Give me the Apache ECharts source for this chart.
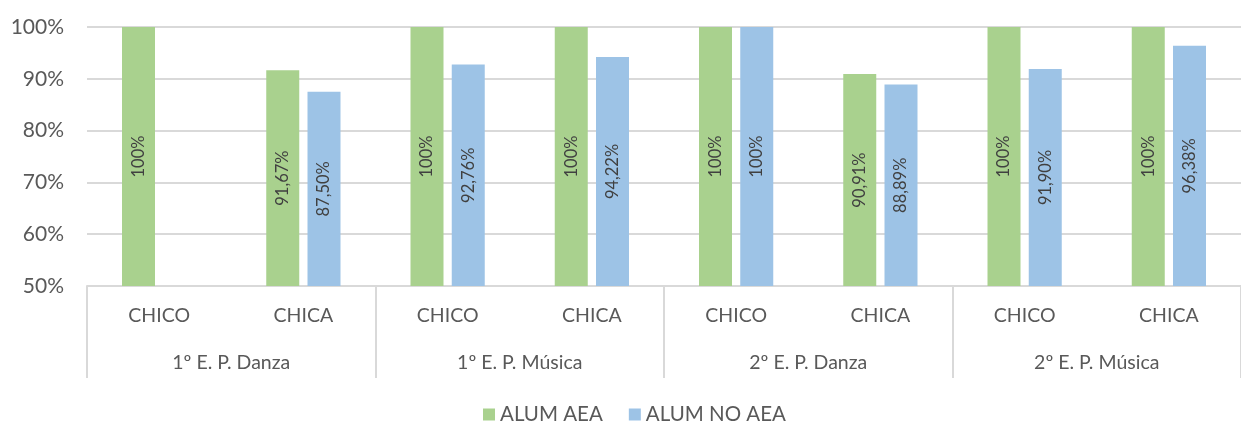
<!DOCTYPE html>
<html>
<head>
<meta charset="utf-8">
<script src="https://cdn.jsdelivr.net/npm/echarts@6/dist/echarts.min.js"></script>
<style>
html,body{margin:0;padding:0;background:#fff;}
#chart{width:1241px;height:424px;}
</style>
</head>
<body>
<div id="chart"></div>
<script>
const categories = ['CHICO','CHICA','CHICO','CHICA','CHICO','CHICA','CHICO','CHICA'];
const groups = ['1º E. P. Danza','1º E. P. Música','2º E. P. Danza','2º E. P. Música'];
const seriesNames = ['ALUM AEA','ALUM NO AEA'];
const alumAEA = [100, 91.67, 100, 100, 100, 90.91, 100, 100];
const alumNoAEA = [null, 87.50, 92.76, 94.22, 100, 88.89, 91.90, 96.38];
const yTicks = [50, 60, 70, 80, 90, 100];

const FONT = 'Lato';
const fmt = v => (v === 100 ? '100' : v.toFixed(2).replace('.', ',')) + '%';

const chart = echarts.init(document.getElementById('chart'), null, {renderer:'canvas'});
const labelCfg = {
  show: true, position: 'inside', rotate: 90,
  color: '#404040', fontFamily: FONT, fontSize: 16.5,
  formatter: p => fmt(p.value)
};
chart.setOption({
  animation: false,
  textStyle: {fontFamily: FONT},
  grid: {left: 87, top: 27, width: 1161, height: 259, containLabel: false},
  legend: {
    data: seriesNames, top: 399, left: 478,
    itemWidth: 12, itemHeight: 12, itemGap: 26,
    icon: 'rect',
    textStyle: {color: '#595959', fontSize: 20.5, fontFamily: FONT}
  },
  xAxis: [{
    type: 'category', data: categories, position: 'bottom',
    axisLine: {lineStyle: {color: '#d9d9d9', width: 2}},
    axisTick: {show: false},
    axisLabel: {color: '#595959', fontSize: 19.5, fontFamily: FONT, margin: 20, interval: 0}
  }, {
    type: 'category', data: groups, position: 'bottom',
    axisLine: {show: false},
    axisTick: {show: true, length: 92, interval: 0, lineStyle: {color: '#d9d9d9', width: 2}},
    axisLabel: {color: '#595959', fontSize: 19.5, fontFamily: FONT, margin: 67, interval: 0}
  }],
  yAxis: {
    type: 'value', min: yTicks[0], max: yTicks[yTicks.length-1], interval: 10,
    axisLine: {show: false}, axisTick: {show: false},
    axisLabel: {color: '#595959', fontSize: 21, fontFamily: FONT, margin: 23, formatter: '{value}%'},
    splitLine: {lineStyle: {color: '#d9d9d9', width: 2}}
  },
  series: [{
    name: seriesNames[0], type: 'bar', data: alumAEA,
    barWidth: 33, barGap: '25%',
    itemStyle: {color: '#A9D18E'}, label: labelCfg
  }, {
    name: seriesNames[1], type: 'bar', data: alumNoAEA,
    barWidth: 33, barGap: '25%',
    itemStyle: {color: '#9DC3E6'}, label: labelCfg
  }]
});
</script>
</body>
</html>
